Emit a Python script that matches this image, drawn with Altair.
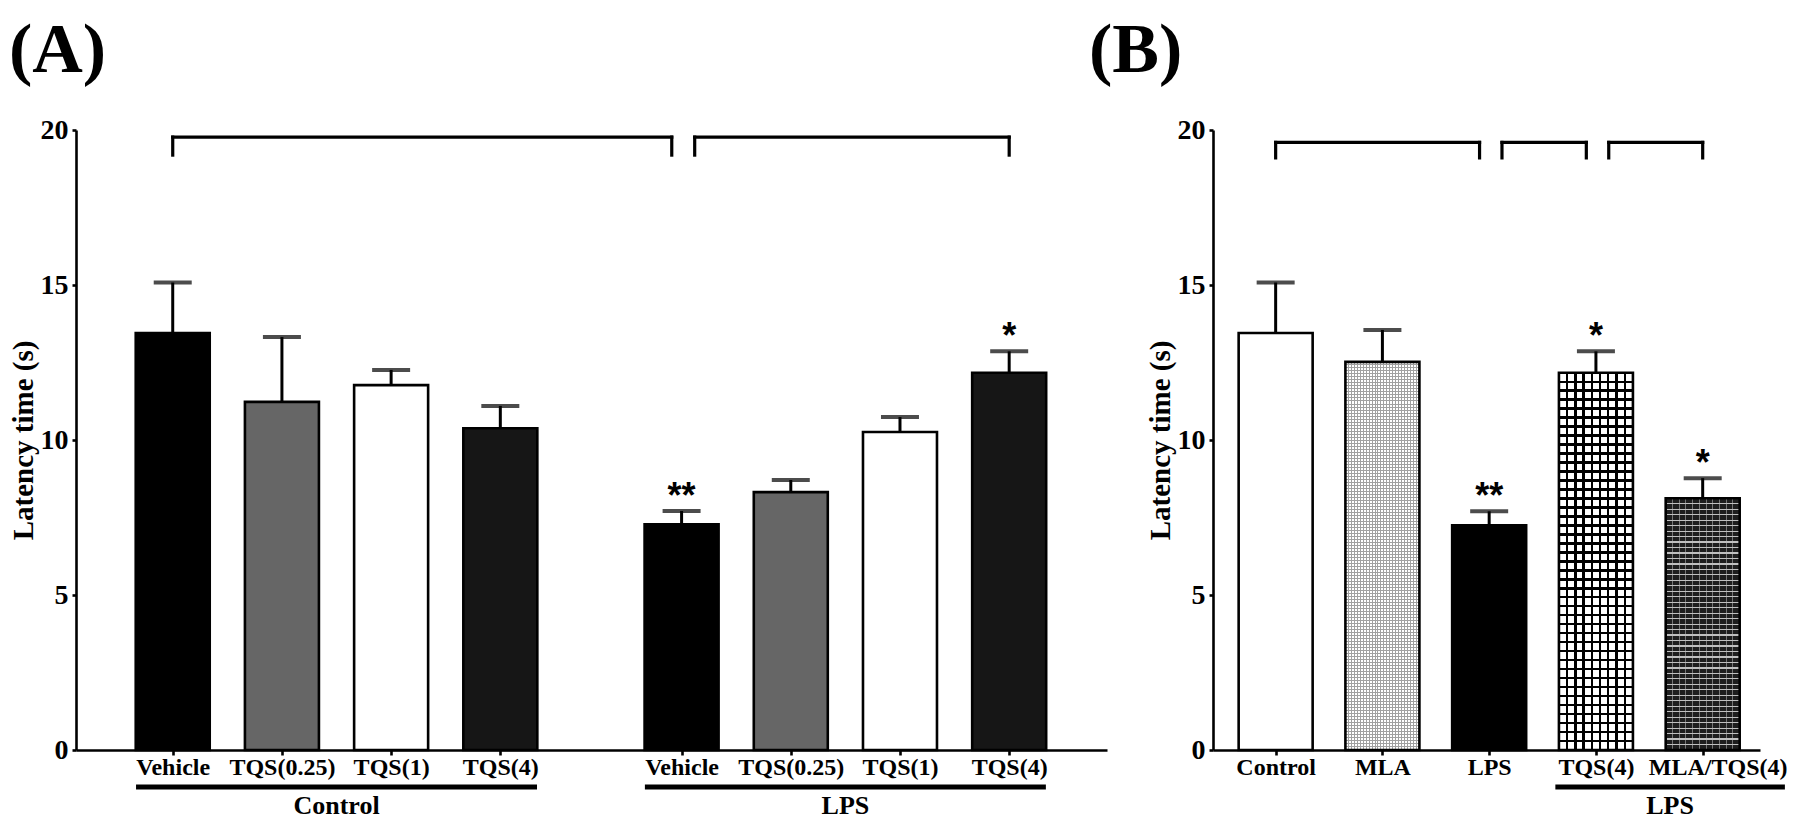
import altair as alt
import pandas as pd

# ---------------- values ----------------
A_GROUP = ["Control", "Control", "Control", "Control", "LPS", "LPS", "LPS", "LPS"]
A_TREAT = ["Vehicle", "TQS(0.25)", "TQS(1)", "TQS(4)", "Vehicle", "TQS(0.25)", "TQS(1)", "TQS(4)"]
A_MEAN = [13.45, 11.23, 11.77, 10.38, 7.28, 8.32, 10.26, 12.17]
A_SEM = [1.63, 2.09, 0.49, 0.72, 0.43, 0.39, 0.48, 0.69]
A_FILL = ["#000000", "#666666", "#ffffff", "#161616", "#000000", "#666666", "#ffffff", "#161616"]
A_SIG = ["", "", "", "", "**", "", "", "*"]
A_BRACKETS = [(0, 4), (4, 7)]
A_BRACKET_Y = [19.77, 19.19]
A_SPANS = [("Control", 0, 3), ("LPS", 4, 7)]

B_TREAT = ["Control", "MLA", "LPS", "TQS(4)", "MLA/TQS(4)"]
B_MEAN = [13.45, 12.52, 7.25, 12.17, 8.12]
B_SEM = [1.63, 1.03, 0.45, 0.69, 0.65]
B_STYLE = ["open", "stipple", "solid", "grid", "brick"]
B_SIG = ["", "", "**", "*", "*"]
B_BRACKETS = [(0, 2), (2, 3), (3, 4)]
B_BRACKET_Y = [19.6, 19.1]
B_SPANS = [("LPS", 3, 4)]

Y_TICKS = [0, 5, 10, 15, 20]
Y_TITLE = "Latency time (s)"

# ---------------- layout / style constants ----------------
FONT = "Liberation Serif"
STAR_FONT = "Liberation Sans"
PLOT_H = 620
PX_PER_UNIT = PLOT_H / 20.0
A_W, B_W = 1031, 547
A_DOMAIN = [0.16, 9.51]
B_DOMAIN = [0.46, 5.49]
GROUP_GAP = 0.66
BAR_PX = 74
CAP_PX = 38
UNDERLINE_Y = 657
GROUP_LABEL_Y = 676
TITLE_SIZE = 70
TITLE_OFFSET = 29

B_FILL = {"open": "#ffffff", "stipple": "#ffffff", "solid": "#000000",
          "grid": "#ffffff", "brick": "#1e1e1e"}


def stripes(period_px, line_px, extent_px, color, direction):
    n = max(1, int(round(extent_px / period_px)))
    frac = line_px / extent_px
    clear = "rgba(255,255,255,0)"
    stops = []
    for i in range(n + 1):
        c = i / n
        a = max(0.0, c - frac / 2)
        b = min(1.0, c + frac / 2)
        stops += [(a, clear), (a, color), (b, color), (b, clear)]
    if direction == "x":
        x1, y1, x2, y2 = 0, 0, 1, 0
    else:
        x1, y1, x2, y2 = 0, 0, 0, 1
    return alt.LinearGradient(
        gradient="linear",
        stops=[alt.GradientStop(offset=round(o, 5), color=c) for o, c in stops],
        x1=x1, y1=y1, x2=x2, y2=y2,
    )


def label_expr(pos, names):
    p = "[" + ",".join(repr(v) for v in pos) + "]"
    n = "[" + ",".join("'" + s + "'" for s in names) + "]"
    return f"{n}[indexof({p}, datum.value)]"


def grid_pattern(hpx):
    return [stripes(8.6, 2.4, BAR_PX, "#000000", "x"),
            stripes(9.0, 2.4, hpx, "#000000", "y")]


def stipple_pattern(hpx):
    return [stripes(3.0, 1.0, BAR_PX, "#a0a0a0", "x"),
            stripes(3.0, 1.0, hpx, "#a0a0a0", "y")]


def brick_pattern(hpx):
    return [stripes(5.5, 1.2, hpx, "#c0c0c0", "y"),
            stripes(7.0, 1.0, BAR_PX, "rgba(190,190,190,0.55)", "x")]


PATTERNS = {"stipple": stipple_pattern, "grid": grid_pattern, "brick": brick_pattern}


def panel(names, pos, mean, sem, sig, fills, brackets, bracket_y, spans,
          span_pad, domain, width, title, title_dx, label_shift=None, styles=None):
    df = pd.DataFrame({
        "name": names, "pos": pos, "mean": mean,
        "top": [m + s for m, s in zip(mean, sem)],
        "sig": sig, "fill": fills,
    })
    if styles is not None:
        df["style"] = styles

    xscale = alt.Scale(domain=domain, nice=False, zero=False)
    yscale = alt.Scale(domain=[0, 20], nice=False, zero=True)
    lab_off = 0
    if label_shift is not None:
        lab_off = {"condition": {"test": f"datum.value == {repr(label_shift[0])}",
                                 "value": label_shift[1]}, "value": 0}
    xaxis = alt.Axis(values=pos, labelExpr=label_expr(pos, names), title=None,
                     tickSize=5, labelPadding=0, labelFontSize=24, labelAngle=0,
                     labelOverlap=False, labelFlush=False, labelOffset=lab_off)
    yaxis = alt.Axis(values=Y_TICKS, title=Y_TITLE, tickSize=4, labelPadding=4,
                     labelFontSize=28, titleFontSize=29, titlePadding=2, format="d")

    X = lambda f: alt.X(f, scale=xscale, axis=xaxis)
    Y = lambda f: alt.Y(f, scale=yscale, axis=yaxis)

    base = alt.Chart(df)
    layers = [
        base.mark_bar(size=BAR_PX, strokeWidth=0).encode(
            x=X("pos:Q"), y=Y("mean:Q"), fill=alt.Fill("fill:N", scale=None))
    ]

    if styles is not None:
        for st, grads in PATTERNS.items():
            sub = df[df["style"] == st]
            if len(sub) == 0:
                continue
            hpx = float(sub["mean"].iloc[0]) * PX_PER_UNIT
            for g in grads(hpx):
                layers.append(alt.Chart(sub).mark_bar(size=BAR_PX, fill=g, strokeWidth=0)
                              .encode(x=X("pos:Q"), y=Y("mean:Q")))

    layers.append(base.mark_bar(size=BAR_PX, fillOpacity=0, stroke="black", strokeWidth=2.6)
                  .encode(x=X("pos:Q"), y=Y("mean:Q")))
    layers.append(base.mark_rule(color="black", strokeWidth=3)
                  .encode(x=X("pos:Q"), y=Y("mean:Q"), y2="top:Q"))
    layers.append(base.mark_tick(orient="horizontal", size=CAP_PX, thickness=4, color="black")
                  .encode(x=X("pos:Q"), y=Y("top:Q")))
    layers.append(base.mark_text(font=STAR_FONT, fontWeight="bold", fontSize=36,
                                 baseline="alphabetic", dy=-3, color="black")
                  .encode(x=X("pos:Q"), y=Y("top:Q"), text="sig:N"))

    # significance brackets
    starts = [s for s, e in brackets]
    ends = [e for s, e in brackets]
    rows, legs = [], []
    for s, e in brackets:
        x1 = pos[s] + (0.12 if s in ends else 0.0)
        x2 = pos[e] - (0.09 if e in starts else 0.0)
        rows.append({"x1": x1, "x2": x2, "y": bracket_y[0]})
        legs.append({"x": x1, "y": bracket_y[0], "y2": bracket_y[1]})
        legs.append({"x": x2, "y": bracket_y[0], "y2": bracket_y[1]})
    bdf = pd.DataFrame(rows)
    ldf = pd.DataFrame(legs)
    layers.append(alt.Chart(bdf).mark_rule(color="black", strokeWidth=3.2, strokeCap="square")
                  .encode(x=X("x1:Q"), x2="x2:Q", y=Y("y:Q")))
    layers.append(alt.Chart(ldf).mark_rule(color="black", strokeWidth=3.2, strokeCap="square")
                  .encode(x=X("x:Q"), y=Y("y:Q"), y2="y2:Q"))

    # group underline + group label
    srows = []
    for lab, s, e in spans:
        a = pos[s] - span_pad[0]
        b = pos[e] + span_pad[1]
        srows.append({"label": lab, "x1": a, "x2": b, "xm": (a + b) / 2})
    sdf = pd.DataFrame(srows)
    layers.append(alt.Chart(sdf).mark_rule(color="black", strokeWidth=5, strokeCap="butt")
                  .encode(x=X("x1:Q"), x2="x2:Q", y=alt.value(UNDERLINE_Y)))
    layers.append(alt.Chart(sdf).mark_text(font=FONT, fontWeight="bold", fontSize=26,
                                           baseline="middle", color="black")
                  .encode(x=X("xm:Q"), y=alt.value(GROUP_LABEL_Y), text="label:N"))

    return alt.layer(*layers).properties(
        width=width, height=PLOT_H,
        title=alt.TitleParams(title, anchor="start", frame="bounds", font=FONT,
                              fontWeight="bold", fontSize=TITLE_SIZE, color="black",
                              offset=TITLE_OFFSET, dx=title_dx),
    )


A_POS = [round(i + 1 + (GROUP_GAP if g == "LPS" else 0.0), 3) for i, g in enumerate(A_GROUP)]
B_POS = [i + 1 for i in range(len(B_TREAT))]

chart_a = panel(A_TREAT, A_POS, A_MEAN, A_SEM, A_SIG, A_FILL, A_BRACKETS, A_BRACKET_Y,
                A_SPANS, (0.336, 0.336), A_DOMAIN, A_W, "(A)", 0)
chart_b = panel(B_TREAT, B_POS, B_MEAN, B_SEM, B_SIG, [B_FILL[s] for s in B_STYLE],
                B_BRACKETS, B_BRACKET_Y, B_SPANS, (0.38, 0.77), B_DOMAIN, B_W, "(B)", -57,
                label_shift=(B_POS[4], 15), styles=B_STYLE)

chart = alt.hconcat(chart_a, chart_b, spacing=106, bounds="flush").properties(
    padding={"left": 0, "top": 7, "right": 0, "bottom": 0}
).configure_view(stroke="transparent").configure_axis(
    domainColor="black", domainWidth=2.6, tickColor="black", tickWidth=2.6,
    labelColor="black", titleColor="black", labelFont=FONT, titleFont=FONT,
    labelFontWeight="bold", titleFontWeight="bold", grid=False,
)

chart.save("out.html", embed_options={"renderer": "svg", "actions": False})
